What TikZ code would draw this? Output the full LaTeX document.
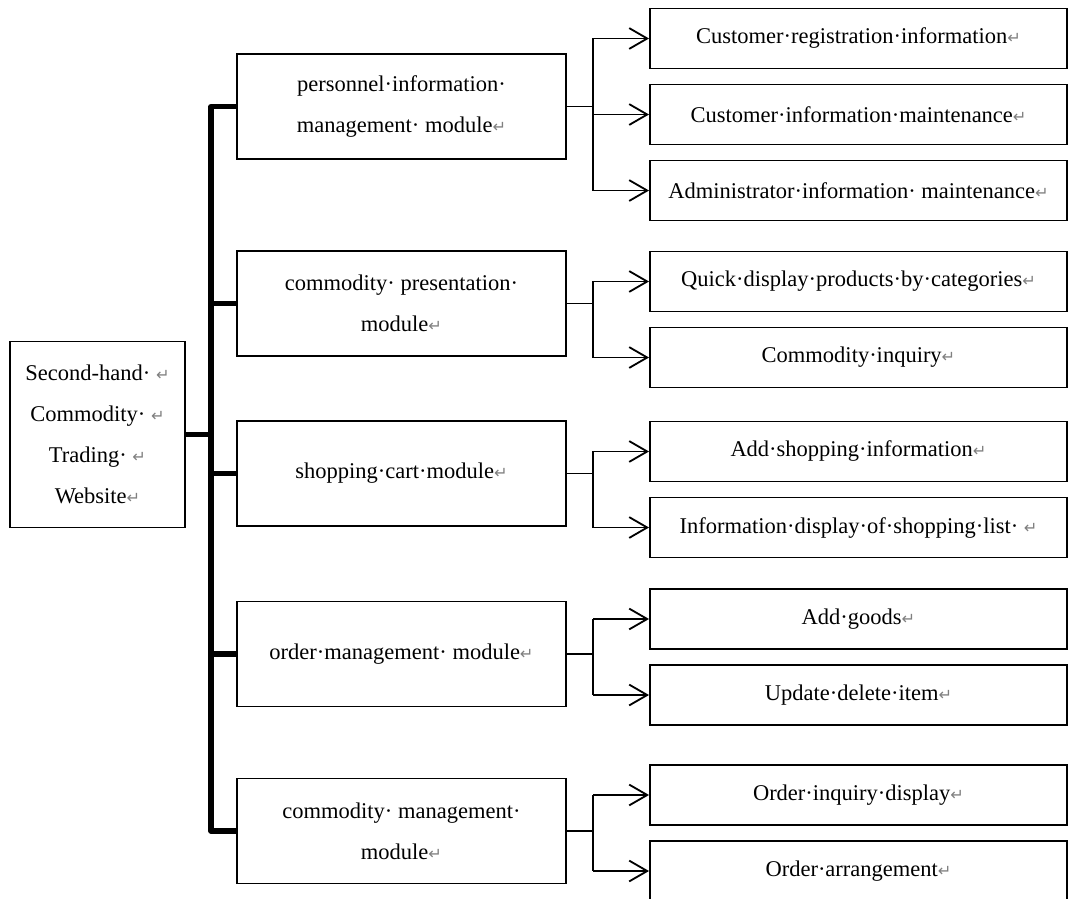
\documentclass[tikz,border=0pt]{standalone}
\usepackage{fontspec}
\setmainfont{Liberation Serif}
\newfontfamily\markfont{DejaVu Sans}
\usetikzlibrary{arrows.meta}

% paragraph mark as printed in the screenshot
\newcommand{\pmk}{{\markfont\color{gray}\fontsize{11.5}{11.5}\selectfont ↵}}

\begin{document}
\begin{tikzpicture}[
                x = 0.025cm, y = -0.025cm, % one unit per pixel of the layout
                > = {Straight Barb[length=4.5mm, width=5.2mm]}, % open arrow head
                node distance = 1.9cm, % distance between leaf boxes
                line width = 1.3pt % line style
            ]

            \tikzstyle{every node}=[draw = black, rectangle, align = center,
            inner sep = 0pt, font = \fontsize{16}{29}\selectfont]
            \tikzstyle{rootbox}=[minimum width = 4.375cm, minimum height = 4.65cm]
            \tikzstyle{modbox}=[minimum width = 8.225cm, minimum height = 2.625cm]
            \tikzstyle{leafbox}=[minimum width = 10.425cm, minimum height = 1.5cm]
            \tikzstyle{spine}=[line width = 3.6pt, line join = round]

            \useasboundingbox (0,0) rectangle (1068,899);
            \clip (0,0) rectangle (1068,899);

            \node (root) [rootbox] at (97.5,434.5) {Second-hand· \pmk\\
            Commodity· \pmk\\ Trading· \pmk\\ Website\pmk};

            \node (m1) [modbox] at (401.5,106.5) {personnel·information·\\
            management· module\pmk}; \node (m2) [modbox] at (401.5,303.5)
            {commodity· presentation·\\ module\pmk}; \node (m3) [modbox] at
            (401.5,473.5) {shopping·cart·module\pmk}; \node (m4) [modbox] at
            (401.5,654) {order·management· module\pmk}; \node (m5) [modbox] at
            (401.5,831) {commodity· management·\\ module\pmk};

            \node (l11) [leafbox] at (858.5,38.5)
            {Customer·registration·information\pmk}; \node (l12) [leafbox,
            below of=l11] {Customer·information·maintenance\pmk}; \node (l13)
            [leafbox, below of=l12] {Administrator·information·
            maintenance\pmk};

            \node (l21) [leafbox] at (858.5,281.5)
            {Quick·display·products·by·categories\pmk}; \node (l22) [leafbox,
            below of=l21] {Commodity·inquiry\pmk};

            \node (l31) [leafbox] at (858.5,451.5)
            {Add·shopping·information\pmk}; \node (l32) [leafbox, below of=l31]
            {Information·display·of·shopping·list· \pmk};

            \node (l41) [leafbox] at (858.5,619) {Add·goods\pmk}; \node (l42)
            [leafbox, below of=l41] {Update·delete·item\pmk};

            \node (l51) [leafbox] at (858.5,795) {Order·inquiry·display\pmk};
            \node (l52) [leafbox, below of=l51] {Order·arrangement\pmk};

            \coordinate (sp) at (211,0); \coordinate (br) at (593,0);

            % thick trunk
            \draw[spine] (root.east) -- (root.east -| sp);
            \draw[spine] (m1.west) -- (m1.west -| sp) -- (m5.west -| sp) --
            (m5.west); \path[spine] (m2.west -| sp) edge (m2.west);
            \path[spine] (m3.west -| sp) edge (m3.west); \path[spine] (m4.west
            -| sp) edge (m4.west);

            % branches to the leaves
            \path[-] (m1.east) edge (m1.east -| br); \path[-] (l11.west -| br)
            edge (l13.west -| br); \path[->] (l11.west -| br) edge (l11.west);
            \path[->] (l12.west -| br) edge (l12.west); \path[->] (l13.west -|
            br) edge (l13.west);

            \path[-] (m2.east) edge (m2.east -| br); \path[-] (l21.west -| br)
            edge (l22.west -| br); \path[->] (l21.west -| br) edge (l21.west);
            \path[->] (l22.west -| br) edge (l22.west);

            \path[-] (m3.east) edge (m3.east -| br); \path[-] (l31.west -| br)
            edge (l32.west -| br); \path[->] (l31.west -| br) edge (l31.west);
            \path[->] (l32.west -| br) edge (l32.west);

            \path[-] (m4.east) edge (m4.east -| br); \path[-] (l41.west -| br)
            edge (l42.west -| br); \path[->] (l41.west -| br) edge (l41.west);
            \path[->] (l42.west -| br) edge (l42.west);

            \path[-] (m5.east) edge (m5.east -| br); \path[-] (l51.west -| br)
            edge (l52.west -| br); \path[->] (l51.west -| br) edge (l51.west);
            \path[->] (l52.west -| br) edge (l52.west);

        \end{tikzpicture}
\end{document}
